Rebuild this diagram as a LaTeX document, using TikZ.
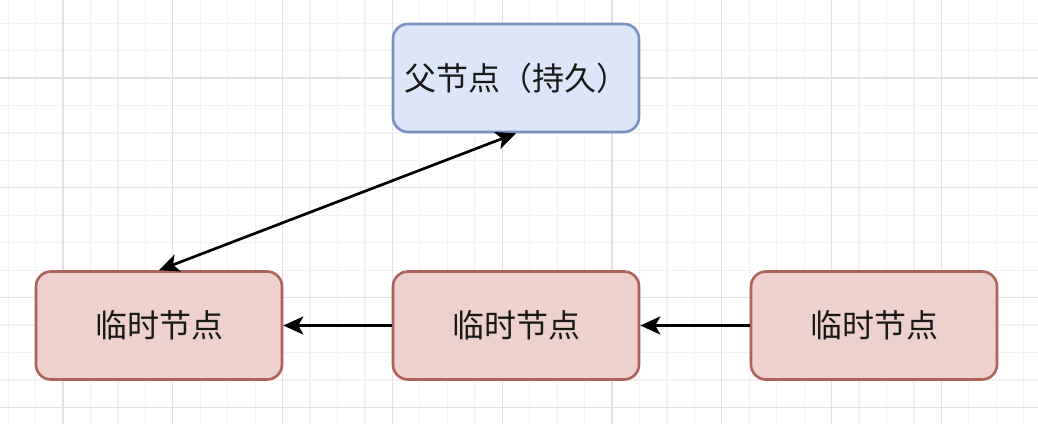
\documentclass[tikz,border=0pt]{standalone}
\usepackage{fontspec}
\usepackage{xcolor}
\usetikzlibrary{arrows.meta}
\newfontfamily\cjk{Noto Sans CJK SC}

\definecolor{bluefill}{HTML}{DCE6F8}
\definecolor{blueline}{HTML}{7890C2}
\definecolor{redfill}{HTML}{EED1CD}
\definecolor{redline}{HTML}{AE625C}
\definecolor{gridminor}{HTML}{F2F2F2}
\definecolor{gridmajor}{HTML}{E2E2E2}

\tikzset{
  box/.style={rounded corners=15pt, line width=2.6pt, minimum width=246pt,
    minimum height=108pt, font=\cjk\fontsize{32}{38}\selectfont, text=black!90},
  parentbox/.style={box, fill=bluefill, draw=blueline},
  tempbox/.style={box, fill=redfill, draw=redline},
  link/.style={line width=2.7pt, -{Stealth[length=20pt,width=18pt,inset=5pt]}}
}

\begin{document}
\begin{tikzpicture}[x=1pt, y=-1pt]

% Rahmen
\useasboundingbox (0,0) rectangle (1038,424);
\fill[white] (0,0) rectangle (1038,424);

% Raster
\foreach \i in {0,...,37} {
  \draw[gridminor, line width=1.2pt] ({8.1+27.45*\i},0) -- ({8.1+27.45*\i},424);
}
\foreach \j in {0,...,15} {
  \draw[gridminor, line width=1.2pt] (0,{23.1+27.45*\j}) -- (1038,{23.1+27.45*\j});
}
\foreach \i in {0,...,9} {
  \draw[gridmajor, line width=1.2pt] ({63+109.8*\i},0) -- ({63+109.8*\i},424);
}
\foreach \j in {0,...,3} {
  \draw[gridmajor, line width=1.2pt] (0,{78+109.8*\j}) -- (1038,{78+109.8*\j});
}

% Knoten
\coordinate (ParentPos) at (516, 78);
\coordinate (TempAPos) at (159, 325.5);
\coordinate (TempBPos) at (516, 325.5);
\coordinate (TempCPos) at (874, 325.5);

\node[parentbox] (Parent) at (ParentPos) {父节点（持久）};
\node[tempbox] (TempA) at (TempAPos) {临时节点};
\node[tempbox] (TempB) at (TempBPos) {临时节点};
\node[tempbox] (TempC) at (TempCPos) {临时节点};

% Verbindungen
\draw[link, {Stealth[length=20pt,width=18pt,inset=5pt]}-{Stealth[length=20pt,width=18pt,inset=5pt]}] (TempA.north) -- (Parent.south);
\draw[link] (TempB.west) -- (TempA.east);
\draw[link] (TempC.west) -- (TempB.east);

\end{tikzpicture}
\end{document}
